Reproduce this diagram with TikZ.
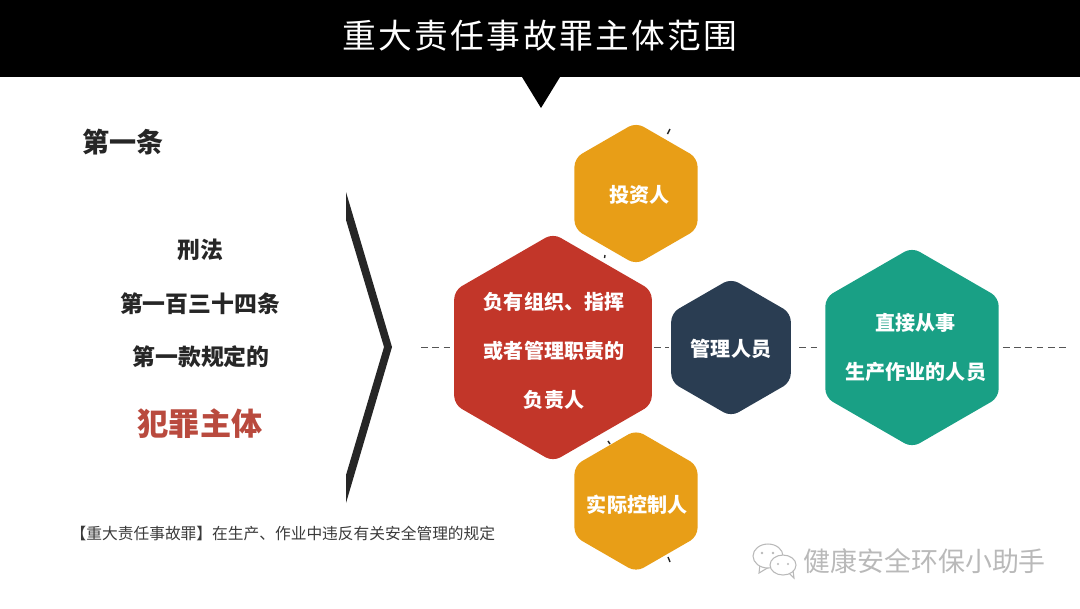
\documentclass[tikz,border=0pt]{standalone}
\usepackage{fontspec}
\setmainfont{Noto Sans CJK SC}
\newfontfamily\titlefont[LetterSpace=7]{Noto Sans CJK SC}
\usepackage{xcolor}
\usetikzlibrary{shapes.geometric}
\definecolor{hexorange}{HTML}{E89E17}
\definecolor{hexred}{HTML}{C23629}
\definecolor{hexnavy}{HTML}{2A3D52}
\definecolor{hexteal}{HTML}{19A085}
\definecolor{crimeRed}{HTML}{B94A3E}
\definecolor{inkGray}{HTML}{262626}
\definecolor{noteGray}{HTML}{3A3A3A}
\definecolor{dashGray}{HTML}{555555}
\definecolor{markGray}{HTML}{B9B9B9}
\tikzset{
    hexcell/.style={
        regular polygon, regular polygon sides=6, shape border rotate=30,
        inner sep=0pt, outer sep=0pt, rounded corners=2.4pt
    },
    hextext/.style={
        text=white, font=\fontsize{5.7}{13.9}\selectfont\bfseries, align=center, inner sep=0pt
    },
    axis/.style={dashGray, line width=0.4pt, dash pattern=on 1.9pt off 1.3pt},
    tick/.style={inkGray, line width=0.4pt},
    sidetext/.style={text=inkGray, font=\fontsize{6.5}{6.5}\selectfont\bfseries, inner sep=0pt},
    bubble/.style={markGray, fill=white, line width=0.3pt}
}

\begin{document}
\begin{tikzpicture}[x=0.01cm, y=-0.01cm]
    \useasboundingbox (0,0) rectangle (1080,608);

    % title bar
    \fill[black] (0,0) rectangle (1080,77);
    \fill[black] (522,77) -- (560,77) -- (541,108) -- cycle;
    \node [text=white, inner sep=0pt, font=\fontsize{9.6}{9.6}\selectfont\titlefont] (title) at (540,36) {重大责任事故罪主体范围};

    %%%%%%

    \node [text=inkGray, inner sep=0pt, font=\fontsize{7.7}{7.7}\selectfont\bfseries] (article) at (123,142) {第一条};
    \node [sidetext] (lawA) at (200,250) {刑法};
    \node [sidetext] (lawB) at (200,304) {第一百三十四条};
    \node [sidetext] (lawC) at (201,357) {第一款规定的};
    \node [text=crimeRed, inner sep=0pt, font=\fontsize{8.85}{8.85}\selectfont\bfseries] (subject) at (200,424) {犯罪主体};
    \node [anchor=west, text=noteGray, inner sep=0pt, font=\fontsize{4.47}{4.47}\selectfont] (note) at (70,533) {【重大责任事故罪】在生产、作业中违反有关安全管理的规定};

    \fill[inkGray] (346,192) -- (392,347) -- (346,503) -- (346,475) -- (384,347) -- (346,220) -- cycle;

    %%%%%%

    \node [hexcell, fill=hexorange, minimum size=1.42cm, label={[hextext, xshift=0.9pt, yshift=-0.5pt]center:投资人}] (investor) at (636,193.5) {};
    \node [hexcell, fill=hexorange, minimum size=1.42cm, label={[hextext, xshift=0.3pt, yshift=-1.1pt]center:实际控制人}] (controller) at (636,501) {};
    \node [hexcell, fill=hexred, minimum size=2.28cm, label={[hextext, xshift=0.3pt, yshift=-0.9pt]center:负有组织、指挥\\或者管理职责的\\负责人}] (leader) at (553,347.5) {};
    \node [hexcell, fill=hexnavy, minimum size=1.38cm, label={[hextext, yshift=-0.3pt]center:管理人员}] (manager) at (731,347.5) {};
    \node [hexcell, fill=hexteal, minimum size=2cm, label={[hextext, xshift=1.1pt]center:直接从事\\生产作业的人员}] (worker) at (912,347.5) {};

    \coordinate (axisL) at (421,347.5);
    \coordinate (axisR) at (1066,347.5);

    \draw[axis, shorten >=0.6pt] (axisL) -- (leader.west);
    \draw[axis, shorten <=0.6pt, shorten >=0.6pt] (leader.east) -- (manager.west);
    \draw[axis, shorten <=2.4pt, shorten >=2.2pt] (manager.east) -- (worker.west);
    \draw[axis, shorten <=1.2pt] (worker.east) -- (axisR);

    \draw[tick] (667.5,134) -- (670,129);
    \draw[tick] (604.5,258) -- (605,255);
    \draw[tick] (608,441) -- (610,444);
    \draw[tick] (668,557) -- (670,562);

    %%%%%%

    % watermark
    \draw[bubble] (760,564) -- (759,573) -- (769,567);
    \draw[bubble] (768,556) ellipse (15 and 12);
    \draw[bubble] (788,572) -- (794,578) -- (793,570);
    \draw[bubble] (783,565) ellipse (13 and 10);
    \fill[markGray] (762,553) circle (1.3) (773,553) circle (1.3) (778,564) circle (1.1) (788,564) circle (1.1);
    \node [anchor=west, text=markGray, inner sep=0pt, font=\fontsize{7.65}{7.65}\selectfont] (mark) at (803,561) {健康安全环保小助手};
\end{tikzpicture}
\end{document}
